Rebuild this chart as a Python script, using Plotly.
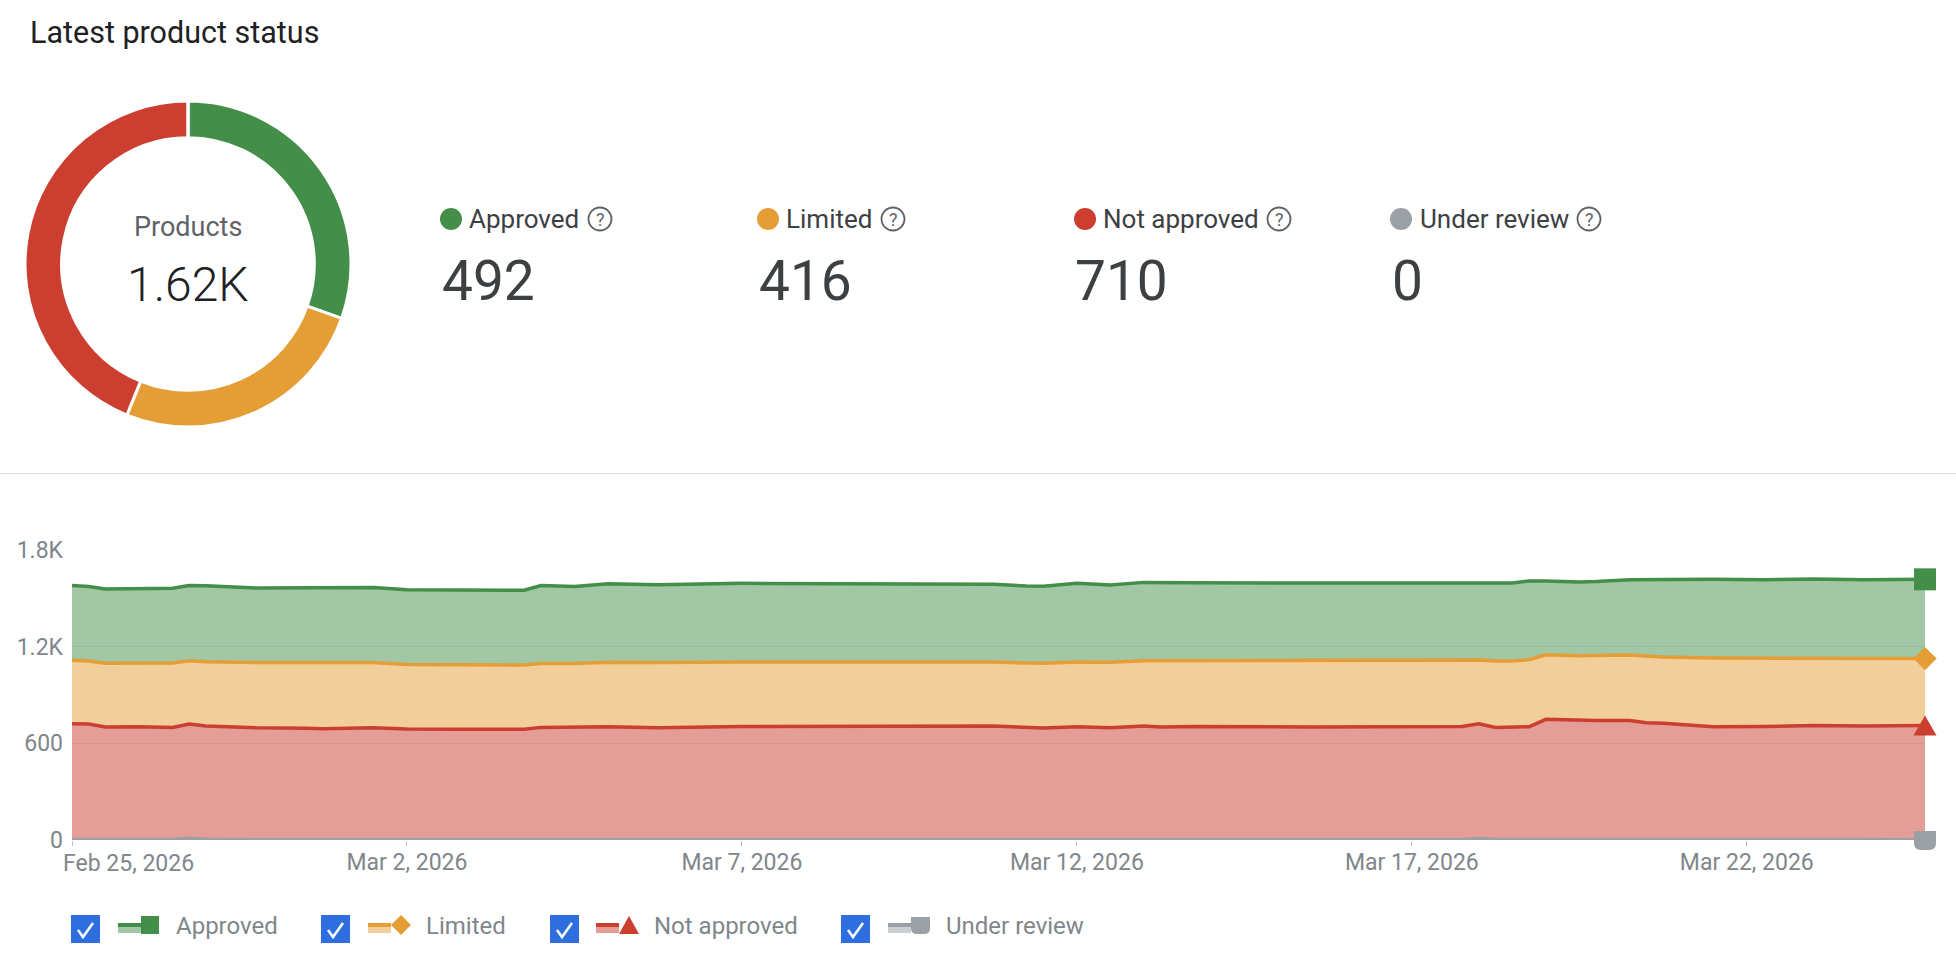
import pandas as pd
import plotly.graph_objects as go

# Overall counts shown in the donut and the stat row
STATUS = ["Approved", "Limited", "Not approved", "Under review"]
LATEST = [492, 416, 710, 0]
TOTAL_LABEL = "1.62K"

# Days since the first date of the history
DAY_OFFSETS = [0, 0.25, 0.5, 1, 1.5, 1.75, 2, 2.75, 3.5, 3.75, 4.5, 5, 5.75, 6.25, 6.75, 7,
               7.5, 8, 8.75, 10, 13.75, 14.25, 14.5, 15, 15.5, 16, 16.25, 16.75, 18.5, 20.75,
               21, 21.25, 21.5, 21.75, 22, 22.5, 22.75, 23.25, 23.5, 23.75, 24.5, 25.25, 26,
               26.75, 27.66]
APPROVED = [464, 463, 461, 462, 463, 466, 471, 463, 464, 465, 467, 464, 465, 464, 464, 484,
            479, 488, 484, 488, 482, 478, 478, 488, 480, 486, 485, 484, 482, 482,
            479, 484, 484, 489, 458, 457, 459, 468, 475, 481, 488, 487, 488, 488, 492]
LIMITED = [393, 391, 396, 395, 400, 393, 399, 404, 407, 409, 404, 401, 401, 399, 399, 396,
           396, 400, 404, 400, 397, 400, 402, 402, 406, 405, 412, 408, 412, 408,
           395, 412, 412, 416, 401, 403, 404, 407, 414, 412, 427, 425, 422, 420, 416]
NOT_APPROVED = [719, 717, 698, 700, 696, 709, 704, 695, 690, 689, 695, 686, 686, 685, 685, 697,
                696, 701, 695, 703, 706, 695, 690, 698, 693, 705, 698, 702, 699, 703,
                713, 696, 696, 700, 746, 738, 735, 734, 723, 720, 700, 702, 706, 705, 710]
UNDER_REVIEW = [3, 3, 3, 3, 3, 11, 4, 2, 3, 2, 2, 3, 2, 2, 2, 2,
                3, 2, 2, 2, 2, 4, 5, 5, 4, 3, 3, 3, 2, 2,
                9, 3, 3, 3, 3, 3, 6, 7, 5, 4, 3, 2, 4, 3, 0]

START = pd.Timestamp("2026-02-25")
TICK_DATES = ["2026-02-25", "2026-03-02", "2026-03-07", "2026-03-12", "2026-03-17", "2026-03-22"]
TICK_TEXT = ["", "Mar 2, 2026", "Mar 7, 2026", "Mar 12, 2026", "Mar 17, 2026", "Mar 22, 2026"]
Y_TICKS = [0, 600, 1200, 1800]
Y_TEXT = ["0", "600", "1.2K", "1.8K"]

GREEN, ORANGE, RED, GREY = "#438f4a", "#e59d36", "#cb3e30", "#9aa0a6"
COLORS = [GREEN, ORANGE, RED, GREY]
FILLS = ["rgba(67,143,74,0.5)", "rgba(229,157,54,0.5)", "rgba(203,62,48,0.5)", "rgba(154,160,166,0.5)"]
FONT = "Roboto, sans-serif"
W, H = 1956, 962


def px(x):
    return x / W


def py(y):
    return 1 - y / H


def poly(points):
    return "M " + " L ".join(f"{px(a):.5f} {py(b):.5f}" for a, b in points) + " Z"


X_DOMAIN = [px(72), px(1925)]
Y_DOMAIN = [py(840), py(550)]
Y_MAX = Y_TICKS[-1]


def level_to_paper(level):
    return Y_DOMAIN[0] + level / Y_MAX * (Y_DOMAIN[1] - Y_DOMAIN[0])


dates = START + pd.to_timedelta(DAY_OFFSETS, unit="D")
fig = go.Figure()

# Donut of the latest counts
fig.add_trace(go.Pie(
    labels=STATUS, values=LATEST, hole=0.775, sort=False, direction="clockwise", rotation=0,
    marker=dict(colors=COLORS, line=dict(color="white", width=3)),
    textinfo="none", hoverinfo="skip", showlegend=False,
    domain=dict(x=[px(25), px(351)], y=[py(427), py(101)]),
))

# Stacked history, bottom band first
bands = [
    (UNDER_REVIEW, GREY, FILLS[3]),
    (NOT_APPROVED, RED, FILLS[2]),
    (LIMITED, ORANGE, FILLS[1]),
    (APPROVED, GREEN, FILLS[0]),
]
for values, color, fill in bands:
    fig.add_trace(go.Scatter(
        x=dates, y=values, mode="lines", stackgroup="history", cliponaxis=False,
        line=dict(color=color, width=3.5), fillcolor=fill,
        hoverinfo="skip", showlegend=False,
    ))

# End-of-series markers sit at the stacked height of the last day
end = dates[-1]
running = 0
ends = []
for values in (UNDER_REVIEW, NOT_APPROVED, LIMITED, APPROVED):
    running += values[-1]
    ends.append(running)
for level, symbol, size, color in [
    (ends[2], "diamond", 18, ORANGE),
    (ends[3], "square", 22, GREEN),
]:
    fig.add_trace(go.Scatter(
        x=[end], y=[level], mode="markers", cliponaxis=False,
        marker=dict(symbol=symbol, size=size, color=color),
        hoverinfo="skip", showlegend=False,
    ))

shapes = [
    dict(type="line", xref="paper", yref="paper", x0=0, x1=1, y0=py(473.5), y1=py(473.5),
         line=dict(color="#dadce0", width=1)),
    # Triangle and rounded markers have no matching Plotly symbol; paper refs keep them unclipped
    dict(type="path", xref="paper", yref="paper", xsizemode="pixel", ysizemode="pixel",
         xanchor=X_DOMAIN[1], yanchor=level_to_paper(ends[1]),
         path="M -11.5 -10 L 11.5 -10 L 0 10 Z",
         fillcolor=RED, line=dict(width=0), layer="above"),
    dict(type="path", xref="paper", yref="paper", xsizemode="pixel", ysizemode="pixel",
         xanchor=X_DOMAIN[1], yanchor=level_to_paper(ends[0]),
         path="M -11 9 L 11 9 L 11 -3 Q 11 -10 4 -10 L -4 -10 Q -11 -10 -11 -3 Z",
         fillcolor=GREY, line=dict(width=0), layer="above"),
]
annotations = []


def text(x, y, s, size, color, anchor="left", weight=400):
    annotations.append(dict(
        xref="paper", yref="paper", x=px(x), y=py(y), text=s, showarrow=False,
        xanchor=anchor, yanchor="middle", borderpad=0,
        font=dict(family=FONT, size=size, color=color, weight=weight),
    ))


def circle(cx, cy, r, fill=None, outline=None):
    shapes.append(dict(
        type="circle", xref="paper", yref="paper",
        x0=px(cx - r), x1=px(cx + r), y0=py(cy + r), y1=py(cy - r),
        fillcolor=fill if fill else "rgba(0,0,0,0)",
        line=dict(color=outline, width=1.8) if outline else dict(width=0),
    ))


def rect(x0, y0, x1, y1, fill):
    shapes.append(dict(
        type="rect", xref="paper", yref="paper",
        x0=px(x0), x1=px(x1), y0=py(y1), y1=py(y0),
        fillcolor=fill, line=dict(width=0),
    ))


text(29, 33, "Latest product status", 30.5, "#202124")
text(188, 227, "Products", 27, "#5f6368", "center")
text(188, 284, TOTAL_LABEL, 48, "#202124", "center", 300)

# Stat row: dot, label, help icon, count
stat_layout = [
    (451, 468, 600, 441),
    (768, 785, 893, 758),
    (1085, 1102, 1279, 1074),
    (1401, 1419, 1589, 1391),
]
for (dot_x, label_x, help_x, num_x), name, count, color in zip(stat_layout, STATUS, LATEST, COLORS):
    circle(dot_x, 219, 11, fill=color)
    text(label_x, 219, name, 26, "#3c4043")
    circle(help_x, 219, 11.5, outline="#5f6368")
    text(help_x, 219, "?", 18, "#5f6368", "center")
    text(num_x, 281, str(count), 55, "#3c4043")

# Checkbox legend under the chart
legend_layout = [
    (71, 118, 175),
    (321, 368, 425),
    (550, 596, 653),
    (841, 888, 945),
]
for (box_x, swatch_x, label_x), name, color, fill in zip(legend_layout, STATUS, COLORS, FILLS):
    rect(box_x, 915, box_x + 29, 943, "#2f6ede")
    shapes.append(dict(
        type="path", xref="paper", yref="paper",
        path=f"M {px(box_x + 7):.5f} {py(930):.5f} L {px(box_x + 12):.5f} {py(937):.5f} "
             f"L {px(box_x + 22):.5f} {py(923):.5f}",
        line=dict(color="white", width=2.5),
    ))
    rect(swatch_x, 923, swatch_x + 23, 927, color)
    rect(swatch_x, 927, swatch_x + 23, 933, fill)
    g = swatch_x + 23
    if name == "Approved":
        rect(g, 916, g + 18, 934, color)
    elif name == "Limited":
        shapes.append(dict(type="path", xref="paper", yref="paper", fillcolor=color, line=dict(width=0),
                           path=poly([(g + 10, 915), (g + 20, 925), (g + 10, 935), (g, 925)])))
    elif name == "Not approved":
        shapes.append(dict(type="path", xref="paper", yref="paper", fillcolor=color, line=dict(width=0),
                           path=poly([(g + 10, 916), (g + 20, 934), (g, 934)])))
    else:
        shapes.append(dict(type="path", xref="paper", yref="paper", fillcolor=color, line=dict(width=0),
                           path=f"M {px(g)} {py(917)} L {px(g + 19)} {py(917)} L {px(g + 19)} {py(928)} "
                                f"Q {px(g + 19)} {py(934)} {px(g + 13)} {py(934)} L {px(g + 6)} {py(934)} "
                                f"Q {px(g)} {py(934)} {px(g)} {py(928)} Z"))
    text(label_x, 926, name, 24, "#80868b")

# First date label is pushed right so it stays inside the chart
text(62, 863, "Feb 25, 2026", 23, "#80868b")

fig.update_layout(
    width=W, height=H, autosize=False,
    margin=dict(l=0, r=0, t=0, b=0, autoexpand=False),
    paper_bgcolor="white", plot_bgcolor="white",
    font=dict(family=FONT),
    showlegend=False, hovermode=False,
    shapes=shapes, annotations=annotations,
    xaxis=dict(
        domain=X_DOMAIN, range=[dates[0], end], type="date",
        tickmode="array", tickvals=TICK_DATES, ticktext=TICK_TEXT,
        ticks="outside", ticklen=5, tickcolor="#bdc1c6", tickwidth=1,
        ticklabelstandoff=-4,
        showgrid=False, showline=False, zeroline=False,
        tickfont=dict(family=FONT, size=23, color="#80868b"),
    ),
    yaxis=dict(
        domain=Y_DOMAIN, range=[0, Y_MAX],
        tickmode="array", tickvals=Y_TICKS, ticktext=Y_TEXT,
        showgrid=True, gridcolor="#e8eaed", gridwidth=1, zeroline=False, showline=False,
        ticks="", ticklabelstandoff=8,
        tickfont=dict(family=FONT, size=23, color="#80868b"),
    ),
)

fig.write_html("out.html", config=dict(displayModeBar=False))
